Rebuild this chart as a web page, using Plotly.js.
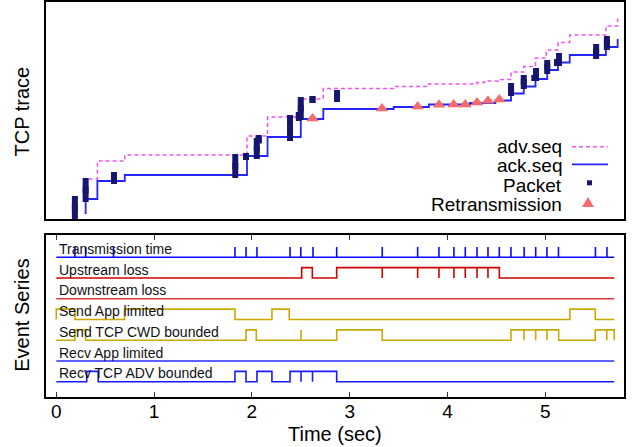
<!DOCTYPE html>
<html><head><meta charset="utf-8">
<script src="https://cdn.plot.ly/plotly-3.0.1.min.js"></script>
<style>html,body{margin:0;padding:0;background:#fff}#chart{width:634px;height:447px}</style>
</head><body><div id="chart"></div>
<script>
// ---------- TCP trace (top panel), time in seconds, sequence in relative units ----------
const ackTime = [0.30, 0.30, 0.42, 0.70, 1.95, 2.16, 2.50, 2.73, 3.45, 3.81, 4.23, 4.49, 4.65, 4.78, 4.90, 5.02, 5.13, 5.25, 5.62, 5.74];
const ackSeq  = [5, 20, 38, 44, 63, 82, 100, 110, 112, 114.5, 116, 118.5, 125.5, 132.5, 140, 149, 156.5, 164, 172, 180];

const advTime = [0.33, 0.42, 0.70, 1.95, 2.16, 2.50, 2.73, 3.45, 3.81, 4.30, 4.38, 4.52, 4.65, 4.78, 4.90, 5.01, 5.13, 5.25, 5.62, 5.74];
const advSeq  = [40, 58, 64, 83, 102, 120, 130.5, 132.5, 135, 136.5, 138, 139.5, 147, 152.5, 161, 169, 176.5, 184, 193, 200.5];

const pktTime    = [0.19, 0.30, 0.59, 1.83, 1.94, 2.05, 2.07, 2.39, 2.48, 2.50, 2.62, 2.87, 4.65, 4.78, 4.89, 4.905, 5.02, 5.12, 5.14, 5.52, 5.63];
const pktSeqLow  = [0, 17, 35, 41, 59, 60, 75.5, 78, 98, 99, 116, 117, 123, 130, 138, 138, 145, 153, 153, 160, 169];
const pktSeqHigh = [23, 41, 47, 65, 66, 81, 84, 104, 107, 122, 123, 129, 136, 144, 144, 151, 159, 160, 166, 175, 183];

const retxTime = [2.62, 3.33, 3.695, 3.913, 4.063, 4.182, 4.302, 4.414, 4.53];
const retxSeq  = [100.6, 110.4, 112.6, 114.3, 114.6, 114.6, 116.6, 118.3, 119.6];

// ---------- Event series (bottom panel) ----------
const rowNames = ["Transmission time", "Upstream loss", "Downstream loss", "Send App limited",
                  "Send TCP CWD bounded", "Recv App limited", "Recv TCP ADV bounded"];
const seriesEnd = 5.705;
// level changes (toggle) and instantaneous pulses, per row
const txToggle = [];
const txPulse  = [0.19, 0.30, 0.585, 1.827, 1.94, 2.052, 2.39, 2.50, 2.625, 2.867, 3.333, 3.695, 3.913,
                  4.066, 4.182, 4.302, 4.414, 4.53, 4.649, 4.784, 4.902, 5.017, 5.135, 5.513, 5.631];
const upLossToggle = [2.509, 2.618, 2.867, 4.53];
const upLossPulse  = [3.333, 3.695, 3.913, 4.066, 4.182, 4.302, 4.414];
const downLossToggle = [];
const downLossPulse  = [];
const sendAppToggle = [0, 0.191, 0.697, 1.827, 2.205, 2.382, 5.252, 5.511];
const sendAppPulse  = [];
const sendCwdToggle = [0.191, 0.30, 1.94, 2.045, 2.867, 3.333, 4.649, 5.137, 5.511, 5.705];
const sendCwdPulse  = [2.502, 4.782, 4.902, 5.017, 5.629];
const recvAppToggle = [];
const recvAppPulse  = [];
const recvAdvToggle = [0.311, 0.429, 1.827, 1.94, 2.052, 2.205, 2.39, 2.867];
const recvAdvPulse  = [2.502, 2.62];

const rowToggles = [txToggle, upLossToggle, downLossToggle, sendAppToggle, sendCwdToggle, recvAppToggle, recvAdvToggle];
const rowPulses  = [txPulse, upLossPulse, downLossPulse, sendAppPulse, sendCwdPulse, recvAppPulse, recvAdvPulse];

// ---------- styles ----------
const rowColors = ["#0a0aff", "#d40000", "#d83a3a", "#c9a900", "#c9a900", "#2a2aff", "#1a1aff"];
const PULSE_H = 0.5;
const FONT = "Liberation Sans, Arial, Helvetica, sans-serif";

function buildRow(toggles, pulses, base) {
  const ev = [];
  toggles.forEach(t => ev.push({t: t, k: 0}));
  pulses.forEach(t => ev.push({t: t, k: 1}));
  ev.sort((a, b) => a.t - b.t);
  let s = 0;
  const xs = [0], ys = [base];
  ev.forEach(e => {
    if (e.k === 0) { s = 1 - s; xs.push(e.t); ys.push(base + s * PULSE_H); }
    else { xs.push(e.t, e.t); ys.push(base + (1 - s) * PULSE_H, base + s * PULSE_H); }
  });
  xs.push(seriesEnd); ys.push(base + s * PULSE_H);
  return {xs: xs, ys: ys};
}

const traces = [];
// top panel
traces.push({x: advTime, y: advSeq, xaxis: 'x2', yaxis: 'y2', mode: 'lines', name: 'adv.seq',
  line: {shape: 'hv', color: '#ee55ee', width: 1.5, dash: '4px,3px'}, showlegend: false, hoverinfo: 'skip'});
traces.push({x: ackTime, y: ackSeq, xaxis: 'x2', yaxis: 'y2', mode: 'lines', name: 'ack.seq',
  line: {shape: 'hv', color: '#2424ff', width: 1.8}, showlegend: false, hoverinfo: 'skip'});
traces.push({x: pktTime, y: pktTime.map((t, i) => (pktSeqLow[i] + pktSeqHigh[i]) / 2),
  xaxis: 'x2', yaxis: 'y2', mode: 'markers', name: 'Packet',
  marker: {symbol: 'square', size: 6, color: '#16166e'},
  error_y: {type: 'data', symmetric: true, array: pktTime.map((t, i) => (pktSeqHigh[i] - pktSeqLow[i]) / 2),
            thickness: 6, width: 0, color: '#16166e'},
  showlegend: false, hoverinfo: 'skip'});
traces.push({x: retxTime, y: retxSeq, xaxis: 'x2', yaxis: 'y2', mode: 'markers', name: 'Retransmission',
  marker: {symbol: 'triangle-up', size: 11, color: '#f56b6b'}, showlegend: false, hoverinfo: 'skip'});

// bottom panel
const annotations = [];
rowNames.forEach((name, i) => {
  const base = rowNames.length - 1 - i;
  const r = buildRow(rowToggles[i], rowPulses[i], base);
  traces.push({x: r.xs, y: r.ys, mode: 'lines', name: name, xaxis: 'x', yaxis: 'y',
    line: {shape: 'hv', color: rowColors[i], width: 1.6}, showlegend: false, hoverinfo: 'skip'});
  annotations.push({text: name, xref: 'x', yref: 'y', x: 0.012, y: base + 0.40, xanchor: 'left', yanchor: 'middle',
    showarrow: false, font: {family: FONT, size: 14, color: '#111'}});
});

// axis titles (rotated), x title and custom legend
annotations.push({text: 'TCP trace', xref: 'paper', yref: 'paper', x: -0.0415, y: 0.7228, textangle: -90,
  xanchor: 'center', yanchor: 'middle', showarrow: false, font: {family: FONT, size: 20, color: '#000'}});
annotations.push({text: 'Event Series', xref: 'paper', yref: 'paper', x: -0.0415, y: 0.2058, textangle: -90,
  xanchor: 'center', yanchor: 'middle', showarrow: false, font: {family: FONT, size: 20, color: '#000'}});
annotations.push({text: 'Time (sec)', xref: 'paper', yref: 'paper', x: 0.5, y: -0.0937,
  xanchor: 'center', yanchor: 'middle', showarrow: false, borderpad: 0, font: {family: FONT, size: 20, color: '#000'}});
const legendNames = ['adv.seq', 'ack.seq', 'Packet', 'Retransmission'];
const legendY = [0.6345, 0.5873, 0.5354, 0.4861];
legendNames.forEach((n, i) => annotations.push({text: n, xref: 'paper', yref: 'paper', x: 0.8945, y: legendY[i],
  xanchor: 'right', yanchor: 'middle', showarrow: false, borderpad: 0,
  font: {family: FONT, size: 19, color: '#000'}}));

const shapes = [
  {type: 'line', xref: 'paper', yref: 'paper', x0: 0.910, x1: 0.9723, y0: 0.6337, y1: 0.6337,
   line: {color: '#ee55ee', width: 1.5, dash: '4px,3px'}},
  {type: 'line', xref: 'paper', yref: 'paper', x0: 0.910, x1: 0.9723, y0: 0.5891, y1: 0.5891,
   line: {color: '#2424ff', width: 1.8}},
  {type: 'rect', xref: 'paper', yref: 'paper', x0: 0.9360, x1: 0.9446, y0: 0.5359, y1: 0.5486,
   line: {width: 0}, fillcolor: '#16166e'},
  {type: 'path', xref: 'paper', yref: 'paper', path: 'M0.9273,0.4810 L0.9481,0.4810 L0.9377,0.5063 Z',
   line: {width: 0}, fillcolor: '#f56b6b'}
];

const xRange = [-0.1053, 5.805];
const layout = {
  width: 634, height: 447,
  margin: {l: 46, r: 10, t: 2, b: 50},
  paper_bgcolor: '#fff', plot_bgcolor: '#fff',
  font: {family: FONT, color: '#000'},
  showlegend: false,
  xaxis: {domain: [0, 1], anchor: 'y', range: xRange, tickvals: [0, 1, 2, 3, 4, 5], ticktext: ['0','1','2','3','4','5'],
    ticks: 'inside', ticklen: 5, tickwidth: 1, tickcolor: '#333', showline: true, linecolor: '#000', linewidth: 2,
    mirror: 'ticks', showgrid: false, zeroline: false, tickfont: {family: FONT, size: 19}, ticklabelstandoff: -4},
  yaxis: {domain: [0, 0.411], anchor: 'x', range: [-0.733, 7.089], showticklabels: false, ticks: '',
    showline: true, linecolor: '#000', linewidth: 2, mirror: true, showgrid: false, zeroline: false},
  xaxis2: {domain: [0, 1], anchor: 'y2', range: xRange, matches: 'x', showticklabels: false, ticks: '',
    showline: true, linecolor: '#000', linewidth: 2, mirror: true, showgrid: false, zeroline: false},
  yaxis2: {domain: [0.4506, 1], anchor: 'x2', range: [0, 217], showticklabels: false, ticks: '',
    showline: true, linecolor: '#000', linewidth: 2, mirror: true, showgrid: false, zeroline: false},
  annotations: annotations,
  shapes: shapes
};
Plotly.newPlot('chart', traces, layout, {staticPlot: true, displayModeBar: false});
</script></body></html>
